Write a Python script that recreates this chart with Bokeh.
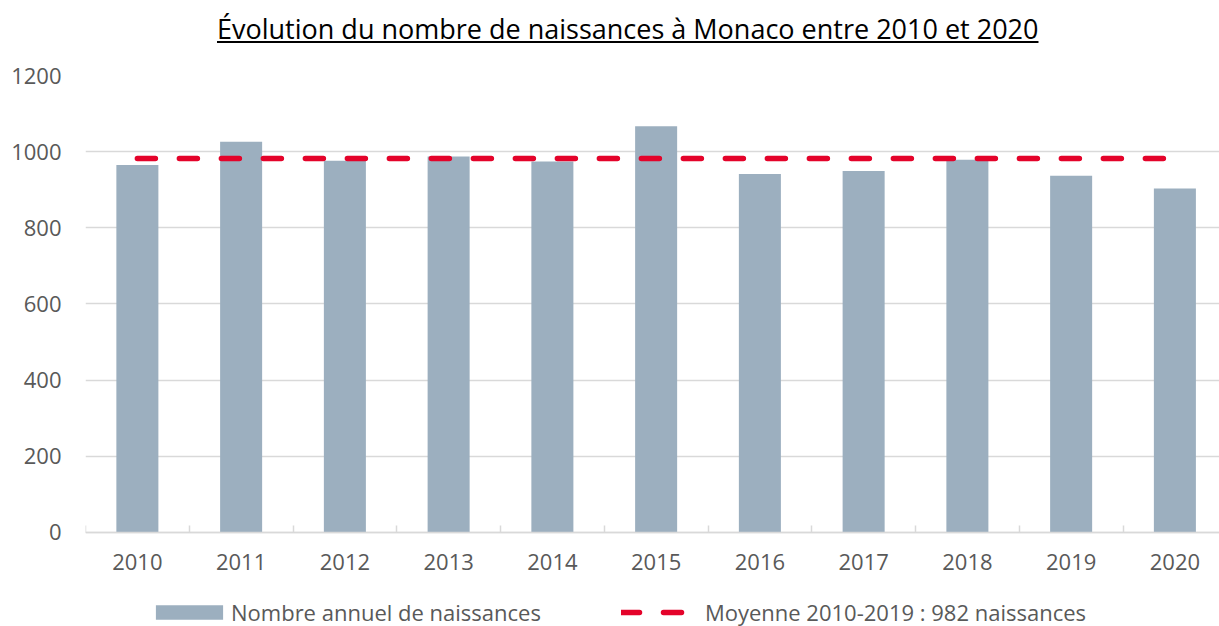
from bokeh.plotting import figure
from bokeh.models import Div, Range1d, FixedTicker, Legend, LegendItem, ColumnDataSource
from bokeh.layouts import column
from bokeh.embed import file_html
from bokeh.resources import INLINE

# ---- data ----
years = ["2010", "2011", "2012", "2013", "2014", "2015", "2016", "2017", "2018", "2019", "2020"]
births = [965, 1026, 976, 987, 974, 1067, 941, 949, 979, 937, 903]
mean_value = 982
y_ticks = [0, 200, 400, 600, 800, 1000, 1200]
title_text = "Évolution du nombre de naissances à Monaco entre 2010 et 2020"
bar_label = "Nombre annuel de naissances"
mean_label = "Moyenne 2010-2019 : 982 naissances"

FONT = "Open Sans"
TXT = "#595959"
GRID = "#d9d9d9"
BAR = "#9cafbf"
RED = "#e4032a"

n = len(years)
centers = [i + 0.5 for i in range(n)]
bounds = list(range(n + 1))

src = ColumnDataSource(dict(x=centers, top=births, year=years))

# frame extends below zero so the axis labels and legend sit inside it
p = figure(width=1219, height=570, output_backend="svg", toolbar_location=None,
           x_range=Range1d(0, 10.93), y_range=Range1d(-247, 1200),
           min_border_left=85, min_border_right=0, min_border_top=19, min_border_bottom=0,
           outline_line_color=None)

bars = p.vbar(x="x", top="top", width=0.405, source=src, fill_color=BAR, line_color=None)
mean_line = p.line(x=centers, y=[mean_value] * n, line_color=RED, line_width=5.5,
                   line_dash="18 24", line_cap="round")

# x axis pinned at y = 0
xa = p.xaxis[0]
xa.fixed_location = 0
xa.ticker = FixedTicker(ticks=centers, minor_ticks=bounds)
xa.major_label_overrides = {c: y for c, y in zip(centers, years)}
xa.major_tick_in = 0
xa.major_tick_out = 0
xa.minor_tick_in = 7
xa.minor_tick_out = 0
xa.minor_tick_line_color = GRID
xa.minor_tick_line_width = 1.5
xa.axis_line_color = GRID
xa.axis_line_width = 1.5
xa.major_label_text_font = FONT
xa.major_label_text_font_size = "22px"
xa.major_label_text_color = TXT
xa.major_label_standoff = 22

ya = p.yaxis[0]
ya.ticker = FixedTicker(ticks=y_ticks)
ya.axis_line_color = None
ya.major_tick_line_color = None
ya.minor_tick_line_color = None
ya.major_label_text_font = FONT
ya.major_label_text_font_size = "22px"
ya.major_label_text_color = TXT
ya.major_label_standoff = 18

p.xgrid.grid_line_color = None
p.ygrid.grid_line_color = GRID
p.ygrid.grid_line_width = 1.5

legend = Legend(items=[LegendItem(label=bar_label, renderers=[bars]),
                       LegendItem(label=mean_label, renderers=[mean_line])],
                orientation="horizontal", location=(62, -1),
                glyph_width=84, glyph_height=18, label_standoff=0, spacing=80,
                border_line_color=None, background_fill_alpha=0,
                label_text_font=FONT, label_text_font_size="22px", label_text_color=TXT,
                label_text_line_height=1.0,
                margin=0, padding=0)
p.add_layout(legend, "center")

title = Div(text=f'<span style="text-decoration:underline">{title_text}</span>',
            styles={"font-family": FONT, "font-size": "27px", "color": "#000",
                    "padding-left": "217px", "padding-top": "10px", "white-space": "nowrap"},
            width=1219, height=56, margin=0)

layout = column(title, p, spacing=0)
open("out.html", "w").write(file_html(layout, INLINE))
